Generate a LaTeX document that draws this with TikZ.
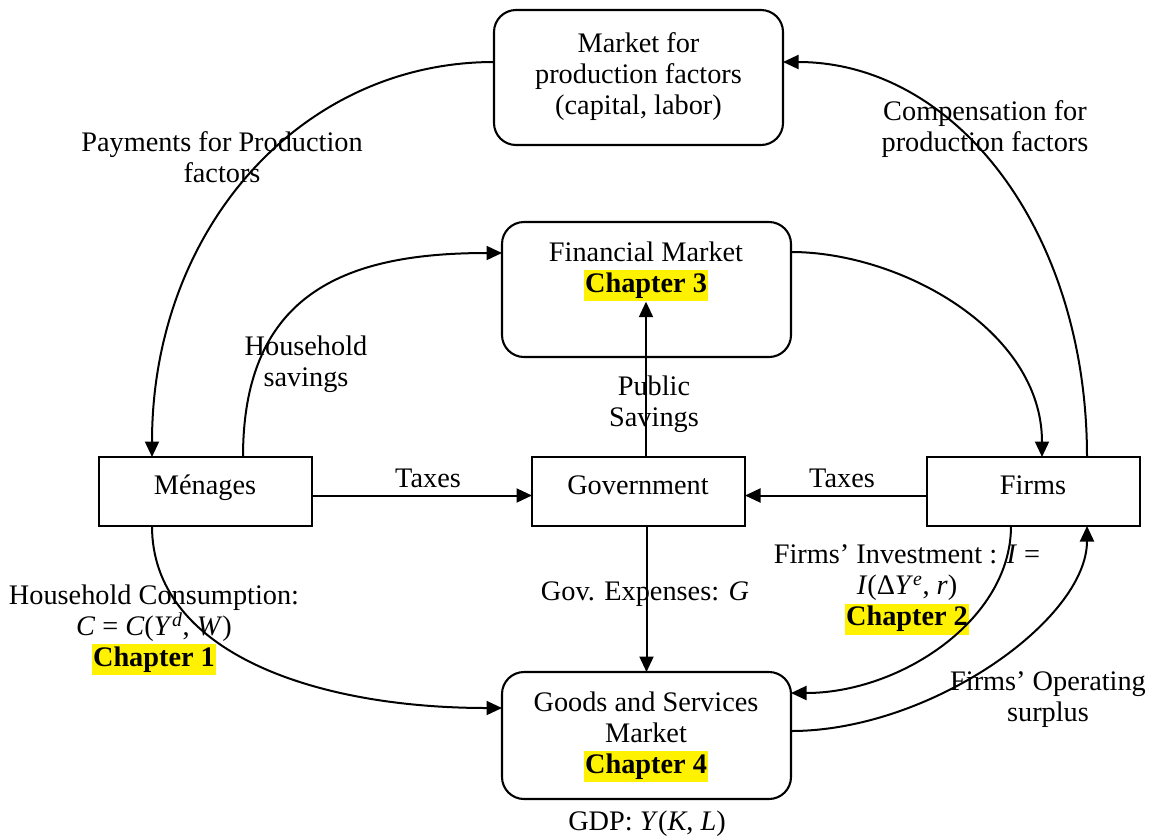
\documentclass[tikz,border=0pt]{standalone}
\usepackage{fontspec}
\setmainfont{Liberation Serif}
\usetikzlibrary{arrows.meta}
\newcommand\hlc[1]{{\setlength{\fboxsep}{0pt}\colorbox{yellow}{\strut\hspace{1.5pt}\textbf{#1}\hspace{1.5pt}}}}
\begin{document}
\begin{tikzpicture}[x=1pt,y=-1pt,
  every node/.style={font=\fontsize{28.3}{31}\selectfont},
  rbox/.style={draw,line width=2.1pt,rounded corners=22pt,inner sep=0pt,outer sep=0pt},
  sbox/.style={draw,line width=2.1pt,inner sep=0pt,outer sep=0pt,minimum width=213pt,minimum height=69pt},
  lbl/.style={align=center,inner sep=0pt},
  bl/.style={inner sep=0pt,anchor=base},
  arr/.style={line width=2pt,-{Triangle[length=15.5pt,width=14pt]}}]
\useasboundingbox (0,0) rectangle (1151,839);
% boxes
\node[rbox,minimum width=289pt,minimum height=135pt] (mkt) at (638.5,77.5) {};
\node[rbox,minimum width=289pt,minimum height=135pt] (fin) at (646.5,289.5) {};
\node[rbox,minimum width=289pt,minimum height=127pt] (goods) at (646.5,735.5) {};
\node[sbox] (men) at (205.5,491.5) {};
\node[sbox] (gov) at (638.5,491.5) {};
\node[sbox] (firms) at (1033.5,491.5) {};
% box texts
\node[lbl] (mkttxt) at (638.5,77) {Market for\\production factors\\(capital, labor)};
\node[lbl] (fintxt) at (646,271.5) {Financial Market\\\hlc{Chapter 3}};
\node[lbl] (goodstxt) at (646,737) {Goods and Services\\Market\\\hlc{Chapter 4}};
\node[bl] (mentxt) at (205,494) {Ménages};
\node[bl] (govtxt) at (638,494) {Government};
\node[bl] (firmstxt) at (1033,494) {Firms};
% labels
\node[lbl] (lpay) at (222,157) {Payments for Production\\factors};
\node[lbl] (lhs) at (306,364) {Household\\savings};
\node[lbl] (lcomp) at (985,129) {Compensation for\\production factors};
\node[lbl] (lpub) at (654,404) {Public\\Savings};
\node[bl] (ltax1) at (428,487) {Taxes};
\node[bl] (ltax2) at (842,487) {Taxes};
\node[bl] (lgov) at (645,600) {Gov. Expenses: \textit{G}};
\node[lbl] (lcons) at (154,630) {Household Consumption:\\\textit{C} = \textit{C}(\textit{Y}\textsuperscript{\textit{d}}, \textit{W})\\\hlc{Chapter 1}};
\node[lbl] (linv) at (907,590) {Firms’ Investment : \textit{I} =\\\textit{I}(Δ\textit{Y}\textsuperscript{\textit{e}}, \textit{r})\\\hlc{Chapter 2}};
\node[lbl] (lsur) at (1048,700) {Firms’ Operating\\surplus};
\node[bl] (lgdp) at (647,830) {GDP: \textit{Y}(\textit{K}, \textit{L})};
% straight connectors
\draw[arr] (gov.north -| fintxt.south) -- (fintxt.south);
\draw[arr] (gov.south -| goods.north) -- (goods.north);
\draw[arr] ([yshift=-4pt]men.east) -- ([yshift=-4pt]gov.west);
\draw[arr] ([yshift=-4pt]firms.west) -- ([yshift=-4pt]gov.east);
% curved connectors
\draw[arr] ([yshift=15.5pt]mkt.west) .. controls (300,62) and (152,230) .. ([xshift=-53.5pt]men.north);
\draw[arr] ([xshift=37.5pt]men.north) .. controls (243,290) and (350,253) .. ([yshift=36.5pt]fin.west);
\draw[arr] ([xshift=53.5pt]firms.north) .. controls (1087,230) and (955,62) .. ([yshift=15.5pt]mkt.east);
\draw[arr] ([yshift=37.5pt]fin.east) .. controls (900,252) and (1042,330) .. ([xshift=8.5pt]firms.north);
\draw[arr] ([xshift=-53.5pt]men.south) .. controls (152,650) and (310,708) .. ([yshift=27.5pt]goods.west);
\draw[arr] ([xshift=-22.5pt]firms.south) .. controls (1011,620) and (900,693) .. ([yshift=42.5pt]goods.east);
\draw[arr] ([yshift=4.5pt]goods.east) .. controls (930,731) and (1087,620) .. ([xshift=53.5pt]firms.south);
\end{tikzpicture}
\end{document}
